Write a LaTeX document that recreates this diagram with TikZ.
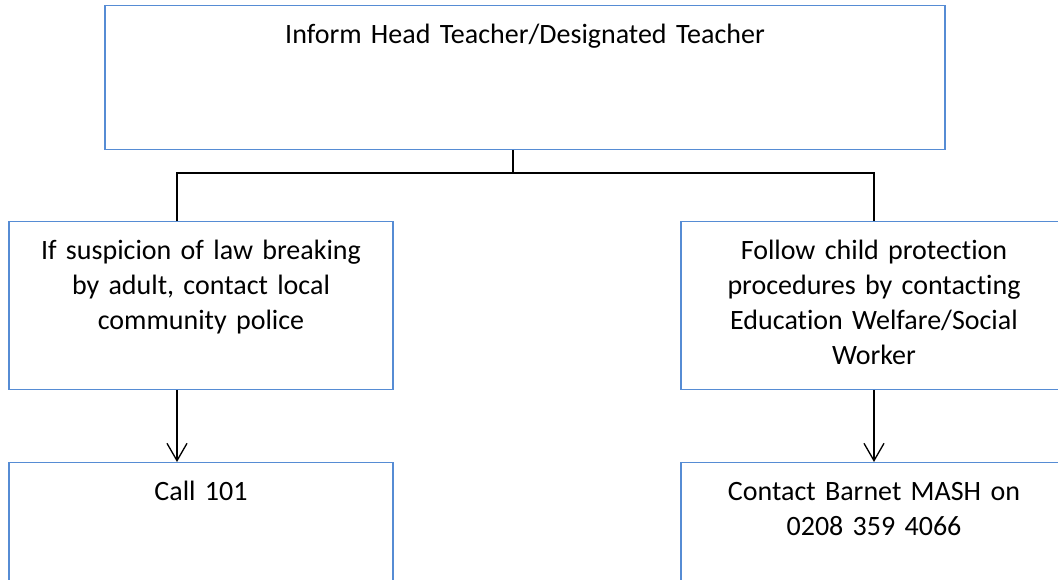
\documentclass[tikz,border=0pt]{standalone}
\usepackage{fontspec}
\setmainfont{Carlito}[Ligatures=NoCommon]
\usepackage{tikz}
\usetikzlibrary{arrows.meta}
\definecolor{boxblue}{RGB}{86,140,212}

\tikzset{
  stagebox/.style={draw=boxblue, line width=1.1pt, inner sep=0pt, anchor=north,
    align=center, font=\fontsize{21}{26.25}\selectfont, text height=28pt},
  link/.style={line width=1pt},
  arrow/.style={line width=1pt, -{Straight Barb[length=13pt,width=15pt]}}
}

\begin{document}
\begin{tikzpicture}[x=0.75pt, y=-0.75pt]
 \useasboundingbox (0,0) rectangle (1058,580);
 % boxes
 \node[stagebox, text width=630pt, text depth=80pt] (head) at (525,5)
   {Inform Head Teacher/Designated Teacher};
 \node[stagebox, text width=288pt, text depth=98pt] (police) at (201,221)
   {If suspicion of law breaking\\ by adult, contact local\\ community police};
 \node[stagebox, text width=289.5pt, text depth=98pt] (cpp) at (874,221)
   {Follow child protection\\ procedures by contacting\\ Education Welfare/Social\\ Worker};
 \node[stagebox, text width=288pt, text depth=100pt] (call) at (201,462)
   {Call 101};
 \node[stagebox, text width=289.5pt, text depth=100pt] (mash) at (874,462)
   {Contact Barnet MASH on\\ 0208 359 4066};
 % connectors
 \coordinate (fork) at (513,173);
 \draw[link] ([xshift=-9pt]head.south) -- (fork);
 \draw[link] (fork) -| ([xshift=-18pt]police.north);
 \draw[link] (fork) -| (cpp.north);
 \draw[arrow] ([xshift=-18pt]police.south) -- ([xshift=-18pt]call.north);
 \draw[arrow] (cpp.south) -- (mash.north);
\end{tikzpicture}
\end{document}
